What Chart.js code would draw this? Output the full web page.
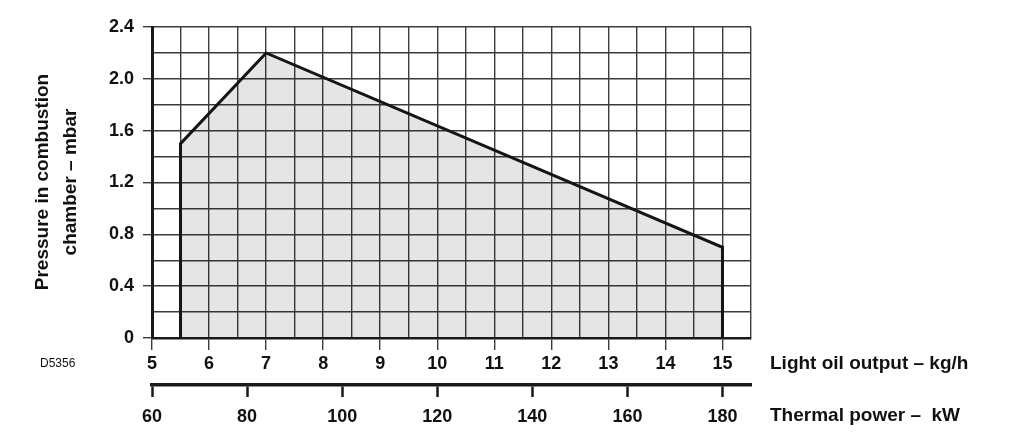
<!DOCTYPE html>
<html>
<head>
<meta charset="utf-8">
<script src="https://cdn.jsdelivr.net/npm/chart.js@4/dist/chart.umd.min.js"></script>
<style>
  html, body { margin: 0; padding: 0; background: #fff; }
  #wrap { width: 1024px; height: 446px; }
</style>
</head>
<body>
<div id="wrap"><canvas id="chart"></canvas></div>
<script>
// Working field outline (light oil output kg/h vs chamber pressure mbar)
const outputKgH = [5.5, 5.5, 7, 15, 15];
const pressureMbar = [0, 1.5, 2.2, 0.7, 0];

// Axis ranges
const xRange = [5, 15.5];
const yRange = [0, 2.4];
const kwPerKgH = 12; // thermal power axis: 60 kW at 5 kg/h, 180 kW at 15 kg/h

const fontFamily = '"Liberation Sans", Arial, Helvetica, sans-serif';
const gridColor = '#3c3c3c';

const points = outputKgH.map((x, i) => ({ x: x, y: pressureMbar[i] }));

// Extra texts: axis names placed beside the axes, and the drawing number
const sideLabels = {
  id: 'sideLabels',
  afterDraw(chart) {
    const ctx = chart.ctx;
    const area = chart.chartArea;
    ctx.save();
    ctx.fillStyle = '#111';
    ctx.textBaseline = 'middle';
    ctx.font = 'bold 19px ' + fontFamily;
    ctx.textAlign = 'left';
    ctx.fillText('Light oil output \u2013 kg/h', area.right + 19, 364);
    ctx.fillText('Thermal power \u2013  kW', area.right + 19, 416);

    ctx.font = '12px ' + fontFamily;
    ctx.fillText('D5356', 40, 364);

    // rotated y title, two lines
    ctx.font = 'bold 19px ' + fontFamily;
    ctx.textAlign = 'center';
    ctx.translate(43, 182);
    ctx.rotate(-Math.PI / 2);
    ctx.fillText('Pressure in combustion', 0, 0);
    ctx.fillText('chamber \u2013 mbar', 0, 28);
    ctx.restore();
  }
};

new Chart(document.getElementById('chart'), {
  type: 'scatter',
  data: {
    datasets: [{
      data: points,
      showLine: true,
      borderColor: '#151515',
      borderWidth: 3,
      backgroundColor: 'rgba(0,0,0,0.1)',
      fill: 'origin',
      pointRadius: 0,
      tension: 0
    }]
  },
  options: {
    responsive: true,
    maintainAspectRatio: false,
    animation: false,
    layout: { padding: { top: 27, right: 273, bottom: 11, left: 0 } },
    plugins: {
      legend: { display: false },
      tooltip: { enabled: false }
    },
    scales: {
      x: {
        type: 'linear',
        position: 'bottom',
        min: xRange[0],
        max: xRange[1],
        afterFit(scale) { scale.height = 47; },
        ticks: {
          stepSize: 0.5,
          autoSkip: false,
          maxRotation: 0,
          padding: 3,
          color: '#111',
          font: { family: fontFamily, size: 18, weight: 'bold' },
          callback: v => (Number.isInteger(v) && v <= 15) ? String(v) : ''
        },
        grid: {
          color: gridColor,
          lineWidth: 1.4,
          tickLength: 12,
          tickColor: ctx => (ctx.tick && Number.isInteger(ctx.tick.value) && ctx.tick.value <= 15) ? gridColor : 'rgba(0,0,0,0)'
        },
        border: { color: '#1a1a1a', width: 2.5 }
      },
      x2: {
        type: 'linear',
        position: 'bottom',
        min: xRange[0] * kwPerKgH,
        max: xRange[1] * kwPerKgH,
        afterFit(scale) { scale.height = 50; },
        ticks: {
          stepSize: 20,
          includeBounds: false,
          autoSkip: false,
          maxRotation: 0,
          padding: 9,
          color: '#111',
          font: { family: fontFamily, size: 18, weight: 'bold' }
        },
        grid: {
          drawOnChartArea: false,
          tickLength: 12,
          tickColor: '#1a1a1a',
          tickWidth: 2.5
        },
        border: { color: '#1a1a1a', width: 3.5 }
      },
      y: {
        type: 'linear',
        min: yRange[0],
        max: yRange[1],
        afterFit(scale) { scale.width = 152; },
        ticks: {
          stepSize: 0.2,
          autoSkip: false,
          padding: 9,
          color: '#111',
          font: { family: fontFamily, size: 18, weight: 'bold' },
          callback: v => {
            const r = Math.round(v * 10);
            if (r % 4 !== 0) return '';
            return r === 0 ? '0' : (r / 10).toFixed(1);
          }
        },
        grid: {
          color: gridColor,
          lineWidth: 1.4,
          tickLength: 9,
          tickColor: ctx => (ctx.tick && Math.round(ctx.tick.value * 10) % 4 === 0) ? gridColor : 'rgba(0,0,0,0)'
        },
        border: { color: '#1a1a1a', width: 3 }
      }
    }
  },
  plugins: [sideLabels]
});
</script>
</body>
</html>
